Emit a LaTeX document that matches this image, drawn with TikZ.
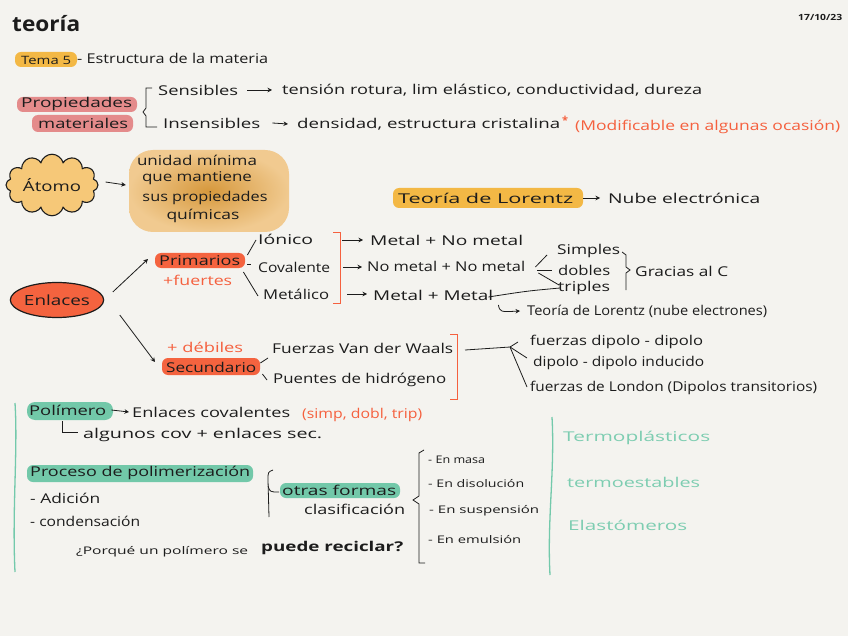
\documentclass[tikz,border=0pt]{standalone}
\usepackage{fontspec}
\setmainfont{Open Sans}
\usepackage{graphicx}
\usetikzlibrary{arrows.meta,shapes.symbols,shapes.geometric}
\definecolor{bg}{HTML}{F4F3EF}
\definecolor{ink}{HTML}{1C1C1C}
\definecolor{hlor}{HTML}{F3B845}
\definecolor{hlpk}{HTML}{E48B8B}
\definecolor{hlred}{HTML}{F4633F}
\definecolor{redt}{HTML}{F5603E}
\definecolor{grnl}{HTML}{73C9AB}
\definecolor{grnhl}{HTML}{72C8A9}
\definecolor{grnt}{HTML}{7DCDB1}
\definecolor{cloudc}{HTML}{F6C878}
\definecolor{blobc}{HTML}{EEA943}
\newcommand\W[2]{\resizebox{#1pt}{\height}{#2}}
\begin{document}
\begin{tikzpicture}[x=1pt,y=-1pt,
  txt/.style={anchor=west,inner sep=0pt,text=ink,font=\fontsize{13.5}{15}\selectfont},
  sm/.style={txt,font=\fontsize{10.5}{12}\selectfont},
  redtxt/.style={txt,text=redt},
  grntxt/.style={txt,text=grnt},
  arr/.style={-{Stealth[length=4.5pt,width=4.5pt]},line width=.8pt,draw=ink},
  ln/.style={line width=.8pt,draw=ink},
  hl/.style={rounded corners=6pt}]
\useasboundingbox (0,0) rectangle (848,636);
\fill[bg] (0,0) rectangle (848,636);

% header
\node[txt,font=\bfseries\fontsize{21}{23}\selectfont] (teoria) at (12,24) {\W{68}{teoría}};
\node[txt,font=\bfseries\fontsize{8.5}{10}\selectfont] (fecha) at (798,17) {\W{44}{17/10/23}};
\fill[hlor,hl] (15,52) rectangle (77,67);
\node[txt,font=\fontsize{11.5}{13}\selectfont] (tema) at (21,60) {\W{50}{Tema 5}};
\node[txt] (titulo) at (77,58) {\W{191}{- Estructura de la materia}};

% propiedades
\fill[hlpk,hl] (17,97) rectangle (137,112);
\node[txt] (prop) at (21,104) {\W{111}{Propiedades}};
\fill[hlpk,hl] (32,115) rectangle (133,132);
\node[txt] (mat) at (38,123) {\W{90}{materiales}};
\draw[ln] (152,88) -- (146,88) -- (146,108) -- (143,112) -- (146,116) -- (146,127) -- (157,127);
\node[txt] (sens) at (158,90) {\W{80}{Sensibles}};
\node[txt] (tens) at (282,90) {\W{420}{tensión rotura, lim elástico, conductividad, dureza}};
\draw[arr] ([xshift=9pt]sens.east) -- ([xshift=-10pt]tens.west);
\node[txt] (insens) at (163,123) {\W{97}{Insensibles}};
\node[txt] (dens) at (297,124) {\W{263}{densidad, estructura cristalina}};
\draw[arr] ([xshift=12pt]insens.east) -- ([xshift=-9pt]dens.west);
\node[redtxt,font=\bfseries\fontsize{11}{12}\selectfont] (ast) at (562,120) {*};
\node[redtxt] (modif) at (575,127) {\W{265}{(Modificable en algunas ocasión)}};

% atomo
\node[cloud, cloud puffs=12, aspect=1.75, draw=ink, line width=1.1pt, fill=cloudc,
      minimum width=92pt, minimum height=56pt, inner sep=0pt, text=ink,
      font=\fontsize{14}{16}\selectfont] (atomo) at (52,185) {\W{58}{Átomo}};
\node[shading=radial, inner color=blobc!90!black, outer color=blobc!55!bg, rounded corners=24pt,
      minimum width=160pt, minimum height=82pt, inner sep=0pt] (blob) at (209,191) {};
\node[txt,anchor=center] (def1) at (197,160) {\W{120}{unidad mínima}};
\node[txt,anchor=center] (def2) at (197,178) {\W{110}{que mantiene}};
\node[txt,anchor=center] (def3) at (205,198) {\W{125}{sus propiedades}};
\node[txt,anchor=center] (def4) at (203,216) {\W{73}{químicas}};
\draw[arr] ([shift={(7pt,3pt)}]atomo.east) -- ([xshift=-3pt]blob.west |- atomo.east);

% Lorentz
\fill[hlor,hl] (393,188) rectangle (583,208);
\node[txt] (lor) at (398,198) {\W{175}{Teoría de Lorentz}};
\node[txt] (nube) at (608,198) {\W{152}{Nube electrónica}};
\draw[arr] ([xshift=10pt]lor.east) -- ([xshift=-8pt]nube.west);

% enlaces
\node[ellipse, draw=ink, line width=1.2pt, fill=hlred, minimum width=89pt, minimum height=35pt,
      inner sep=0pt, text=ink, font=\fontsize{14}{16}\selectfont] (enl) at (57,300) {\W{66}{Enlaces}};
\fill[hlred,hl] (155,253) rectangle (245,268);
\node[txt] (prim) at (159,261) {\W{81}{Primarios}};
\node[redtxt] (fuer) at (163,280) {\W{69}{+fuertes}};
\draw[arr] ([shift={(8.5pt,8pt)}]enl.east) -- ([shift={(-11pt,2pt)}]prim.west);

\node[txt] (ion) at (258,239) {\W{55}{Iónico}};
\node[txt] (cov) at (258,267) {\W{72}{Covalente}};
\node[txt] (met) at (263,294) {\W{66}{Metálico}};
\draw[ln] ([shift={(7pt,6pt)}]prim.east) -- ([shift={(-2pt,-1pt)}]ion.west);
\draw[ln] ([shift={(7pt,-3pt)}]prim.east) -- ([shift={(11pt,-3pt)}]prim.east);
\draw[ln] ([shift={(3pt,-11pt)}]prim.east) -- ([shift={(-5pt,-2pt)}]met.west);
\draw[redt, line width=.9pt] (333,232) -- (340,232) -- (340,303) -- (333,303);

\node[txt] (mnm) at (370,240) {\W{153}{Metal + No metal}};
\node[txt] (nmnm) at (367,266) {\W{158}{No metal + No metal}};
\node[txt] (mm) at (373,295) {\W{120}{Metal + Metal}};
\coordinate (br1) at (342,240);
\coordinate (br2) at (343,267);
\coordinate (br3) at (347,294);
\draw[arr] (br1) -- ([xshift=-7pt]mnm.west);
\draw[arr] (br2) -- ([shift={(-5pt,-1pt)}]nmnm.west);
\draw[arr] (br3) -- ([shift={(-6pt,1pt)}]mm.west);

\node[txt] (simp) at (557,251) {\W{63}{Simples}};
\node[txt] (dob) at (558,270) {\W{52}{dobles}};
\node[txt] (trip) at (558,288) {\W{52}{triples}};
\draw[ln] ([shift={(10pt,-1pt)}]nmnm.east) -- ([shift={(-10pt,-4pt)}]simp.west);
\draw[ln] ([shift={(12pt,-4pt)}]nmnm.east) -- ([shift={(-6pt,0pt)}]dob.west);
\draw[ln] ([shift={(13pt,-7pt)}]nmnm.east) -- ([shift={(1pt,3pt)}]trip.west);
\draw[ln] (622,252) -- (626,255) -- (626,267) -- (630,270) -- (626,273) -- (626,290);
\node[txt] (grac) at (635,271) {\W{93}{Gracias al C}};
\draw[ln] ([shift={(-5pt,-2pt)}]mm.east) .. controls (527,291) .. ([shift={(2pt,0pt)}]trip.west);
\node[txt] (lor2) at (527,311) {\W{240}{Teoría de Lorentz (nube electrones)}};
\draw[arr] ([shift={(5pt,-10pt)}]mm.east) .. controls (500,312) .. ([xshift=-7pt]lor2.west);

% secundario
\node[redtxt] (deb) at (167,347) {\W{76}{+ débiles}};
\fill[hlred,hl] (162,358) rectangle (260,375);
\node[txt] (sec) at (166,367) {\W{90}{Secundario}};
\draw[arr] ([shift={(15.5pt,-15pt)}]enl.east) -- ([shift={(-11pt,5pt)}]sec.west);
\node[txt] (vdw) at (272,348) {\W{181}{Fuerzas Van der Waals}};
\node[txt] (pue) at (273,380) {\W{173}{Puentes de hidrógeno}};
\draw[ln] ([shift={(4pt,4pt)}]sec.east) -- ([shift={(-4pt,-10pt)}]vdw.west);
\draw[ln] ([shift={(6pt,-7pt)}]sec.east) -- ([shift={(-6pt,0pt)}]pue.west);
\draw[redt, line width=.9pt] (450,334) -- (457,334) -- (457,399) -- (450,399);
\node[txt] (dd) at (530,342) {\W{173}{fuerzas dipolo - dipolo}};
\node[txt] (dind) at (533,363) {\W{171}{dipolo - dipolo inducido}};
\node[txt] (lon) at (530,388) {\W{287}{fuerzas de London (Dipolos transitorios)}};
\coordinate (br4) at (465,350);
\coordinate (fanv) at (510,347);
\draw[ln] (br4) -- (fanv);
\draw[ln] (fanv) -- ([shift={(-12pt,0pt)}]dd.west);
\draw[ln] (fanv) -- ([shift={(-6pt,5pt)}]dind.west);
\draw[ln] (fanv) -- ([shift={(-3pt,1pt)}]lon.west);

% polimeros
\draw[grnl, line width=1.3pt] (15,403) .. controls (18,450) and (12,510) .. (15,572);
\draw[grnl, line width=1.3pt] (552,417) .. controls (555,470) and (547,520) .. (550,575);
\fill[grnhl,rounded corners=8pt] (27,402) rectangle (113,420);
\node[txt] (pol) at (29,410) {\W{77}{Polímero}};
\node[txt] (encov) at (132,412) {\W{158}{Enlaces covalentes}};
\draw[arr] ([xshift=5pt]pol.east) -- ([xshift=-3pt]encov.west);
\node[redtxt] (simpl) at (302,415) {\W{120}{(simp, dobl, trip)}};
\node[txt] (alg) at (83,435) {\W{239}{algunos cov + enlaces sec.}};
\draw[ln] ([shift={(-5pt,-6pt)}]pol.south) |- ([shift={(-5pt,3pt)}]alg.west);

\fill[grnhl,hl] (27,465) rectangle (253,482);
\node[txt] (proc) at (30,473) {\W{220}{Proceso de polimerización}};
\node[txt] (adi) at (30,498) {\W{70}{- Adición}};
\node[txt] (cond) at (30,521) {\W{110}{- condensación}};
\draw[ln] (273,470) .. controls (268,472) .. (268,480) -- (269,517);
\draw[ln] (268,486) .. controls (270,492) .. (279,492);
\fill[grnhl,hl] (280,483) rectangle (400,498);
\node[txt] (otras) at (282,490) {\W{114}{otras formas}};
\node[txt] (clas) at (304,509) {\W{101}{clasificación}};
\draw[ln] (424,450) -- (419,453) -- (419,496) -- (413,500) -- (419,504) -- (419,563) -- (425,563);
\node[sm] (masa) at (428,460) {\W{57}{- En masa}};
\node[sm] (diso) at (428,484) {\W{96}{- En disolución}};
\node[sm] (susp) at (429,511) {\W{110}{- En suspensión}};
\node[sm] (emul) at (428,540) {\W{93}{- En emulsión}};
\node[txt,font=\fontsize{10.5}{12}\selectfont] (preg) at (76,552) {\W{172}{¿Porqué un polímero se}};
\node[txt,font=\bfseries\fontsize{13.5}{15}\selectfont] (recic) at (261,548) {\W{142}{puede reciclar?}};

\node[grntxt] (termop) at (563,438) {\W{147}{Termoplásticos}};
\node[grntxt] (termoe) at (567,482) {\W{133}{termoestables}};
\node[grntxt] (elast) at (568,525) {\W{119}{Elastómeros}};
\end{tikzpicture}
\end{document}
